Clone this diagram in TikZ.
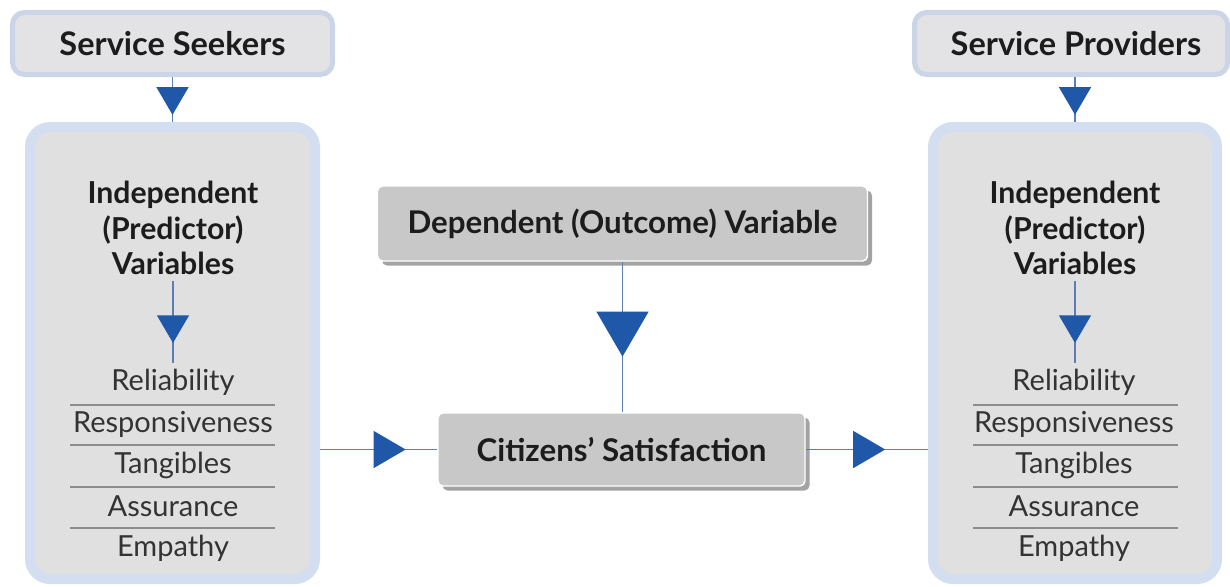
\documentclass[tikz,border=0pt]{standalone}
\usepackage{fontspec}
\setmainfont{Lato}
\usepackage{tikz}
\usetikzlibrary{arrows.meta, decorations.markings, shadows}
\definecolor{cardgray}{HTML}{E3E3E5}
\definecolor{cardedge}{HTML}{CAD6E7}
\definecolor{panelgray}{HTML}{E0E0E0}
\definecolor{paneledge}{HTML}{D3DFF0}
\definecolor{boxgray}{HTML}{C8C8C8}
\definecolor{shadegray}{HTML}{A3A3A3}
\definecolor{linkblue}{HTML}{5B7FB3}
\definecolor{tipblue}{HTML}{1F57A9}
\definecolor{rulegray}{HTML}{8C8C8C}
\definecolor{inkblack}{HTML}{1C1C1C}
\tikzstyle{card} = [rectangle, rounded corners=0.24cm, draw=cardedge, line width=0.1cm, fill=cardgray, text=inkblack, font=\fontsize{18.5}{22}\selectfont\bfseries]
\tikzstyle{panel} = [rectangle, rounded corners=0.4cm, draw=paneledge, line width=0.2cm, fill=panelgray]
\tikzstyle{varbox} = [rectangle, rounded corners=0.1cm, draw=white, thick, fill=boxgray, text=inkblack, font=\fontsize{17.8}{21}\selectfont\bfseries, drop shadow={shadow xshift=0.09cm, shadow yshift=-0.09cm, fill=shadegray, opacity=1}]
\tikzstyle{heading} = [align=center, text=inkblack, font=\fontsize{17.2}{20}\selectfont\bfseries]
\tikzstyle{varitem} = [text=black!80, font=\fontsize{16.5}{19}\selectfont]
\tikzstyle{sepline} = [draw=rulegray, line width=0.6pt]
\tikzstyle{flow} = [draw=linkblue, line width=0.85pt, postaction=decorate]
\tikzset{tipat/.style 2 args={decoration={markings, mark=at position #1 with {\arrow{Triangle[angle=60:#2, color=tipblue]}}}}}

\begin{document}
\begin{tikzpicture}
    \useasboundingbox (0, 0) rectangle (24.6, -11.72);

    % who takes part
    \node[card, minimum width=6.4cm, minimum height=1.24cm] at (3.45, -0.87) (seekers) {Service Seekers};
    \node[card, minimum width=6.26cm, minimum height=1.24cm] at (21.42, -0.87) (providers) {\hspace{0.2cm}Service Providers};

    % left panel
    \node[panel, minimum width=5.7cm, minimum height=9.04cm] at (3.45, -7.06) (leftpanel) {};
    \node[heading] at (3.46, -4.56) (lefthead) {Independent\\(Predictor)\\Variables};
    \node[varitem] at (3.46, -7.64) (leftrel) {Reliability};
    \node[varitem] at (3.46, -8.48) (leftresp) {Responsiveness};
    \node[varitem] at (3.46, -9.30) (lefttang) {Tangibles};
    \node[varitem] at (3.46, -10.12) (leftass) {Assurance};
    \node[varitem] at (3.46, -10.96) (leftemp) {Empathy};
    \draw[sepline] (1.4, -8.10) -- (5.5, -8.10);
    \draw[sepline] (1.4, -8.90) -- (5.5, -8.90);
    \draw[sepline] (1.4, -9.74) -- (5.5, -9.74);
    \draw[sepline] (1.4, -10.56) -- (5.5, -10.56);

    % right panel
    \node[panel, minimum width=5.68cm, minimum height=9.04cm] at (21.5, -7.06) (rightpanel) {};
    \node[heading] at (21.5, -4.56) (righthead) {Independent\\(Predictor)\\Variables};
    \node[varitem] at (21.48, -7.64) (rightrel) {Reliability};
    \node[varitem] at (21.48, -8.48) (rightresp) {Responsiveness};
    \node[varitem] at (21.48, -9.30) (righttang) {Tangibles};
    \node[varitem] at (21.48, -10.12) (rightass) {Assurance};
    \node[varitem] at (21.48, -10.96) (rightemp) {Empathy};
    \draw[sepline] (19.46, -8.10) -- (23.56, -8.10);
    \draw[sepline] (19.46, -8.90) -- (23.56, -8.90);
    \draw[sepline] (19.46, -9.74) -- (23.56, -9.74);
    \draw[sepline] (19.46, -10.56) -- (23.56, -10.56);

    % outcome in the middle
    \node[varbox, minimum width=9.8cm, minimum height=1.5cm] at (12.45, -4.47) (outcome) {Dependent (Outcome) Variable};
    \node[varbox, minimum width=7.34cm, minimum height=1.46cm] at (12.43, -8.99) (satisfaction) {Citizens’ Satisfaction};

    % links
    \path[flow, tipat={0.84}{0.64cm}] (seekers.south) -- (leftpanel.north);
    \path[flow, tipat={0.84}{0.64cm}] (providers.south -| rightpanel.north) -- (rightpanel.north);
    \path[flow, tipat={0.76}{0.64cm}] (lefthead.south) -- (leftrel.north);
    \path[flow, tipat={0.76}{0.64cm}] (righthead.south) -- (righthead.south |- rightrel.north);
    \path[flow, tipat={0.63}{1.04cm}] (outcome.south) -- (outcome.south |- satisfaction.north);
    \path[flow, tipat={0.73}{0.74cm}] (leftpanel.east |- satisfaction.west) -- (satisfaction.west);
    \path[flow, tipat={0.65}{0.74cm}] (satisfaction.east) -- (rightpanel.west |- satisfaction.east);

\end{tikzpicture}
\end{document}
